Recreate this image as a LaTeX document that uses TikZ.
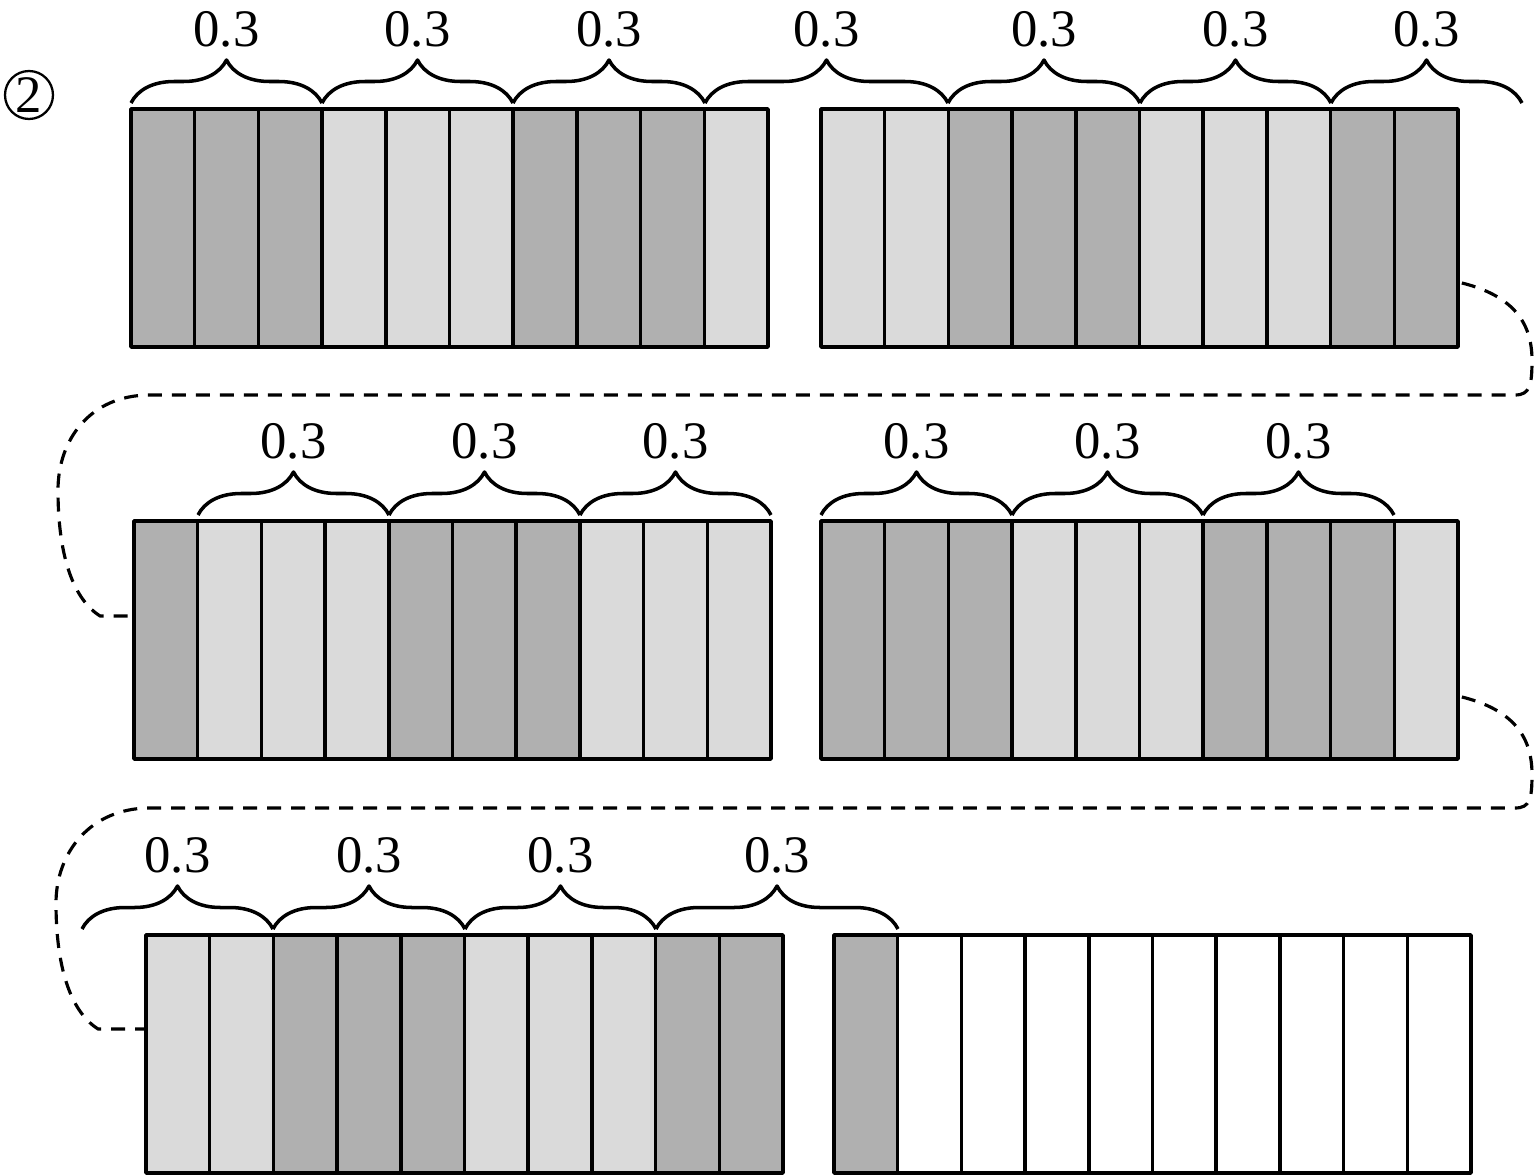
\documentclass[tikz,border=0pt]{standalone}
\usepackage{fontspec}
\setmainfont{Liberation Serif}
\usetikzlibrary{calc,decorations.pathreplacing}
\definecolor{cdark}{gray}{0.69}
\definecolor{clight}{gray}{0.855}
\tikzset{
  blk/.style={anchor=north west,minimum width=12.74cm,minimum height=4.76cm,inner sep=0pt,outer sep=0pt},
  cell/.style={draw,line width=2pt},
  dk/.style={fill=cdark}, lt/.style={fill=clight}, wh/.style={fill=white},
  brc/.style={decorate,decoration={brace,amplitude=0.86cm},line width=2pt},
  lnk/.style={line width=1.8pt,dash pattern=on 0.28cm off 0.2cm}
}
\begin{document}
\begin{tikzpicture}[x=0.02cm,y=-0.02cm,font=\fontsize{30}{34}\selectfont,line join=round]
\useasboundingbox (0,0) rectangle (1536,1176);
\node[circle,draw,line width=1.3pt,minimum size=0.96cm,inner sep=0pt] (num) at (29,95) {2};
% blocks of ten cells
\foreach \n/\x/\y/\pat in {
  A1/131/109/{dk,dk,dk,lt,lt,lt,dk,dk,dk,lt},
  B1/821/109/{lt,lt,dk,dk,dk,lt,lt,lt,dk,dk},
  A2/134/521/{dk,lt,lt,lt,dk,dk,dk,lt,lt,lt},
  B2/821/521/{dk,dk,dk,lt,lt,lt,dk,dk,dk,lt},
  A3/146/935/{lt,lt,dk,dk,dk,lt,lt,lt,dk,dk},
  B3/834/935/{dk,wh,wh,wh,wh,wh,wh,wh,wh,wh}}{
  \node[blk] (\n) at (\x,\y) {};
  \foreach \c [count=\i from 0] in \pat
    \draw[cell,\c] ({\x+63.7*\i},\y) rectangle ++(63.7,238);
}
% braces
\foreach \a/\b/\y [count=\k] in {131/322/103,322/513/103,513/705/103,705/948/103,
  948/1140/103,1140/1331/103,1331/1522/103,
  198/389/515,389/580/515,580/771/515,821/1012/515,1012/1203/515,1203/1394/515,
  82/273/929,273/465/929,465/656/929,656/898/929}{
  \draw[brc] (\a,\y) -- (\b,\y);
  \node (w\k) at ({(\a+\b)/2},\y-74) {0.3};
}
% links between rows
\draw[lnk] ($(B1.east)+(4,55)$) .. controls (1510,295) and (1532,320) .. (1532,360)
  .. controls (1532,385) and (1530,395) .. (1515,395) -- (150,395)
  .. controls (90,395) and (58,440) .. (58,490)
  .. controls (58,560) and (75,600) .. (100,616) -- ($(A2.west)+(0,-24)$);
\draw[lnk] ($(B2.east)+(4,57)$) .. controls (1510,709) and (1532,734) .. (1532,774)
  .. controls (1532,799) and (1530,808) .. (1515,808) -- (150,808)
  .. controls (90,808) and (56,853) .. (56,903)
  .. controls (56,973) and (73,1013) .. (98,1029) -- ($(A3.west)+(0,-25)$);
\end{tikzpicture}
\end{document}
